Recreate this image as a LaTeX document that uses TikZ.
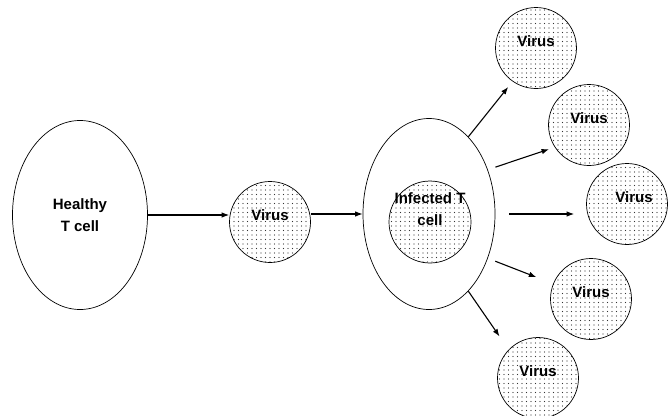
\documentclass[tikz,border=0pt]{standalone}
\usepackage{fontspec}
\setmainfont{Liberation Sans}
\usetikzlibrary{shapes.geometric, arrows.meta, patterns.meta}

\begin{document}
\begin{tikzpicture}[x=1pt, y=-1pt,
        cell/.style={ellipse, draw=black, line width=0.7pt, align=center, font=\fontsize{15}{22}\selectfont\bfseries},
        virus/.style={circle, draw=black, line width=0.7pt, minimum size=81pt, pattern={Dots[distance=4.5pt, radius=0.6pt]}, pattern color=black!80, text depth=14pt, font=\fontsize{15}{22}\selectfont\bfseries},
        arrow/.style={-{Latex[length=7.5pt, width=5.5pt]}, line width=1.1pt}
    ]
        \useasboundingbox (0,0) rectangle (668,415);

        % Healthy cell and the free virus
        \node (healthy) [cell, minimum width=135pt, minimum height=189pt] at (80,215) {Healthy\\T cell};
        \node (v0) [virus] at (270,222) {Virus};

        % Infected cell with a virus inside
        \node (infected) [cell, minimum width=132pt, minimum height=191pt] at (429,214) {};
        \node (core) [virus, minimum size=82pt] at (430,222) {};
        \node (inflabel) [align=center, font=\fontsize{15}{22}\selectfont\bfseries] at (430,209) {Infected T\\cell};

        % New viruses leaving the cell
        \node (v1) [virus] at (536,48) {Virus};
        \node (v2) [virus] at (589,125) {Virus};
        \node (v3) [virus] at (627,204) {\hspace*{14pt}Virus};
        \node (v4) [virus] at (591,299) {Virus};
        \node (v5) [virus] at (538,378) {Virus};

        % Arrows
        \draw [arrow] (healthy.east) -- (healthy.east -| v0.west);
        \draw [arrow] (v0.east |- infected.west) -- (infected.west);
        \draw [arrow, shorten >=7pt] (infected.63) -- (v1.235);
        \draw [arrow, shorten <=8pt, shorten >=6pt] (infected.37) -- (v2.213);
        \draw [arrow, shorten <=14pt, shorten >=12pt] (infected.east) -- (infected.east -| v3.west);
        \draw [arrow, shorten <=8pt, shorten >=18pt] (infected.-37) -- (v4.158);
        \draw [arrow, shorten >=16pt] (infected.-63) -- (v5.136);

    \end{tikzpicture}
\end{document}
